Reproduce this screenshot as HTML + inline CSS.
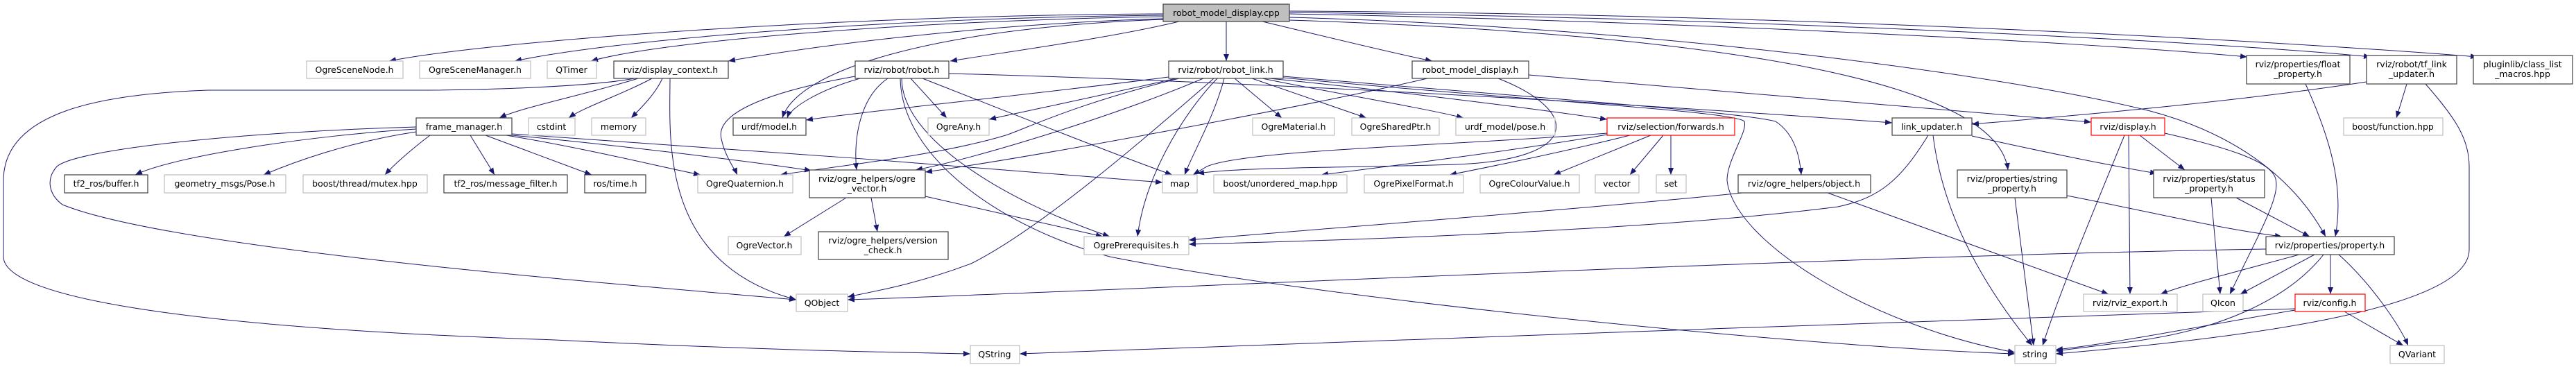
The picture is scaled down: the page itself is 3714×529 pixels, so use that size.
<!DOCTYPE html>
<html><head><meta charset="utf-8"><style>
html,body{margin:0;padding:0;background:#fff;}
svg{display:block;}
text{font-family:"DejaVu Sans","Liberation Sans",sans-serif;font-size:12.5px;fill:#000;text-anchor:middle;}
.g{fill:#fff;stroke:#bfbfbf;stroke-width:1.2;}
.b{fill:#fff;stroke:#404040;stroke-width:1.2;}
.r{fill:#fff;stroke:#ff0000;stroke-width:1.2;}
.e{fill:none;stroke:#191970;stroke-width:1;}
</style></head><body>
<svg width="3714" height="529" viewBox="0 0 3714 529" xmlns="http://www.w3.org/2000/svg">
<defs><marker id="a" markerUnits="userSpaceOnUse" markerWidth="11" markerHeight="8" refX="10" refY="4" orient="auto"><path d="M0,0 L10,4 L0,8 z" fill="#191970"/></marker></defs>
<g class="e" marker-end="url(#a)">
<!-- root -->
<path d="M1677,20 C1200,22 700,60 561,88"/>
<path d="M1677,22 C1300,25 900,55 742,88"/>
<path d="M1677,24 C1300,30 950,60 852,88"/>
<path d="M1677,27 C1400,35 1150,70 1050,88"/>
<path d="M1677,28 C1350,40 1150,100 1128,170"/>
<path d="M1700,31 C1600,55 1450,75 1370,88"/>
<path d="M1768,31 L1768,88"/>
<path d="M1820,31 C1900,50 2000,75 2065,88"/>
<path d="M1859,20 C2400,30 3000,60 3240,82"/>
<path d="M1859,18 C2500,25 3200,60 3418,82"/>
<path d="M1859,16 C2600,20 3300,60 3572,82"/>
<path d="M1859,29 C2500,50 2880,120 2895,245"/>
<path d="M1859,25 C2400,40 2900,110 3100,160 C3250,200 3320,280 3353,341"/>
<!-- display_context -->
<path d="M920,113 C850,135 750,155 720,170"/>
<path d="M940,113 C900,135 840,155 820,170"/>
<path d="M955,113 C945,135 925,155 910,170"/>
<path d="M966,113 C966,200 950,380 1148,432"/>
<path d="M915,113 C850,125 700,130 600,130 L300,130 C150,135 5,160 5,260 L5,370 C5,420 200,470 800,490 C1100,505 1300,508 1399,510"/>
<!-- frame_manager -->
<path d="M600,186 C450,195 250,225 195,252"/>
<path d="M600,190 C500,205 420,235 380,252"/>
<path d="M620,195 C600,210 570,235 555,252"/>
<path d="M678,195 L713,252"/>
<path d="M700,195 L853,252"/>
<path d="M730,195 C850,215 950,240 1010,252"/>
<path d="M738,195 C900,210 1100,235 1170,246"/>
<path d="M738,193 C1000,210 1400,240 1676,263"/>
<path d="M600,183 C350,190 110,215 82,240 C66,258 70,280 90,295 C250,360 900,410 1148,432"/>
<!-- robot.h -->
<path d="M1240,113 C1180,130 1140,155 1135,170"/>
<path d="M1233,110 C1120,130 1030,160 1040,200 C1045,225 1060,245 1063,252"/>
<path d="M1280,113 C1240,140 1230,200 1235,245"/>
<path d="M1313,113 L1365,170"/>
<path d="M1330,113 C1450,160 1600,220 1690,252"/>
<path d="M1300,113 C1300,200 1450,290 1600,341"/>
<path d="M1298,113 C1300,230 1450,330 1600,370 C1900,430 2600,500 2905,510"/>
<path d="M1368,106 C1900,120 2500,160 2728,177"/>
<!-- robot_link -->
<path d="M1685,111 C1500,135 1250,160 1162,173"/>
<path d="M1700,113 C1550,150 1480,185 1450,195 C1350,225 1200,240 1125,252"/>
<path d="M1735,113 C1600,170 1400,230 1320,245"/>
<path d="M1700,112 C1600,135 1480,160 1426,172"/>
<path d="M1765,113 C1750,170 1720,220 1708,252"/>
<path d="M1755,113 C1700,170 1650,260 1640,341"/>
<path d="M1750,113 C1650,200 1500,330 1400,380 C1320,410 1260,420 1222,428"/>
<path d="M1780,113 L1848,170"/>
<path d="M1805,113 L1970,170"/>
<path d="M1820,113 C1900,130 2050,155 2110,170"/>
<path d="M1830,113 C2000,130 2200,155 2317,172"/>
<path d="M1850,110 C2200,140 2500,160 2560,175 C2590,195 2595,230 2597,252"/>
<path d="M1850,112 C2200,145 2500,160 2515,175 C2520,190 2490,230 2490,260 C2500,350 2700,470 2905,508"/>
<!-- robot_model_display.h -->
<path d="M2204,108 C2600,140 2900,165 3015,176"/>
<path d="M2160,113 C2280,160 2280,230 2100,237 C1950,242 1800,240 1726,250"/>
<path d="M2058,113 C1900,150 1500,225 1334,248"/>
<!-- forwards -->
<path d="M2317,194 C2200,215 2000,240 1905,252"/>
<path d="M2350,195 C2250,220 2150,240 2090,252"/>
<path d="M2380,195 L2240,252"/>
<path d="M2398,195 L2350,252"/>
<path d="M2409,195 L2409,252"/>
<path d="M2317,192 C2100,210 1800,215 1740,240 L1720,252"/>
<!-- link_updater -->
<path d="M2780,195 C2740,260 2710,285 2650,298 C2400,330 2000,345 1714,352"/>
<path d="M2787,195 C2800,300 2850,400 2930,498"/>
<path d="M2843,196 C2950,220 3050,240 3110,250"/>
<!-- object.h -->
<path d="M2512,278 C2300,300 1900,330 1714,346"/>
<path d="M2635,278 L3040,424"/>
<!-- string_property -->
<path d="M2905,285 L2932,498"/>
<path d="M2980,282 C3100,305 3200,330 3290,341"/>
<!-- display.h -->
<path d="M3063,195 C3020,300 2970,420 2945,498"/>
<path d="M3069,195 L3071,424"/>
<path d="M3085,195 L3150,245"/>
<path d="M3121,192 C3200,210 3270,230 3280,255 C3290,280 3260,330 3215,424"/>
<!-- status -->
<path d="M3188,285 L3201,424"/>
<path d="M3224,285 L3330,341"/>
<!-- float / tf -->
<path d="M3324,121 C3360,200 3380,270 3367,341"/>
<path d="M3412,118 C3200,150 2950,170 2843,179"/>
<path d="M3470,121 L3455,170"/>
<path d="M3497,121 C3540,170 3560,200 3560,240 L3560,360 C3560,450 3200,490 2964,510"/>
<!-- property -->
<path d="M3267,359 C2600,370 1600,420 1222,432"/>
<path d="M3315,367 C3250,385 3150,410 3115,424"/>
<path d="M3337,367 L3230,424"/>
<path d="M3350,367 C3300,430 3200,480 3050,495 L2964,506"/>
<path d="M3360,367 L3360,424"/>
<path d="M3372,367 C3420,410 3460,470 3472,498"/>
<!-- config -->
<path d="M3309,445 C2800,460 1800,500 1470,510"/>
<path d="M3309,447 C3200,465 3050,495 2964,504"/>
<path d="M3380,449 L3465,498"/>
<!-- ogre_vector -->
<path d="M1220,285 L1130,341"/>
<path d="M1256,285 L1265,334"/>
<path d="M1334,283 L1590,341"/>
</g>
<!-- nodes -->
<rect x="1677" y="6" width="182" height="25" fill="#bfbfbf" stroke="#404040" stroke-width="1.2"/><text x="1768" y="23">robot_model_display.cpp</text>
<rect class="g" x="442" y="88" width="139" height="25"/><text x="511" y="105">OgreSceneNode.h</text>
<rect class="g" x="605" y="88" width="160" height="25"/><text x="685" y="105">OgreSceneManager.h</text>
<rect class="g" x="789" y="88" width="71" height="25"/><text x="824" y="105">QTimer</text>
<rect class="b" x="885" y="88" width="165" height="25"/><text x="967" y="105">rviz/display_context.h</text>
<rect class="b" x="1233" y="88" width="135" height="25"/><text x="1300" y="105">rviz/robot/robot.h</text>
<rect class="b" x="1685" y="88" width="165" height="25"/><text x="1767" y="105">rviz/robot/robot_link.h</text>
<rect class="b" x="2036" y="88" width="168" height="25"/><text x="2120" y="105">robot_model_display.h</text>
<rect class="b" x="3239" y="80" width="149" height="41"/><text x="3313" y="97">rviz/properties/float</text><text x="3313" y="111">_property.h</text>
<rect class="b" x="3412" y="80" width="130" height="41"/><text x="3477" y="97">rviz/robot/tf_link</text><text x="3477" y="111">_updater.h</text>
<rect class="b" x="3566" y="80" width="143" height="41"/><text x="3637" y="97">pluginlib/class_list</text><text x="3637" y="111">_macros.hpp</text>
<rect class="b" x="600" y="170" width="138" height="25"/><text x="669" y="187">frame_manager.h</text>
<rect class="g" x="762" y="170" width="67" height="25"/><text x="795" y="187">cstdint</text>
<rect class="g" x="853" y="170" width="78" height="25"/><text x="892" y="187">memory</text>
<rect class="b" x="1057" y="170" width="105" height="25"/><text x="1109" y="187">urdf/model.h</text>
<rect class="g" x="1338" y="170" width="88" height="25"/><text x="1382" y="187">OgreAny.h</text>
<rect class="g" x="1806" y="170" width="118" height="25"/><text x="1865" y="187">OgreMaterial.h</text>
<rect class="g" x="1949" y="170" width="126" height="25"/><text x="2012" y="187">OgreSharedPtr.h</text>
<rect class="g" x="2099" y="170" width="143" height="25"/><text x="2170" y="187">urdf_model/pose.h</text>
<rect class="r" x="2317" y="170" width="184" height="25"/><text x="2409" y="187">rviz/selection/forwards.h</text>
<rect class="b" x="2728" y="170" width="115" height="25"/><text x="2785" y="187">link_updater.h</text>
<rect class="r" x="3015" y="170" width="106" height="25"/><text x="3068" y="187">rviz/display.h</text>
<rect class="g" x="3379" y="170" width="143" height="25"/><text x="3450" y="187">boost/function.hpp</text>
<rect class="b" x="93" y="252" width="120" height="26"/><text x="153" y="269">tf2_ros/buffer.h</text>
<rect class="g" x="237" y="252" width="175" height="26"/><text x="324" y="269">geometry_msgs/Pose.h</text>
<rect class="g" x="437" y="252" width="179" height="26"/><text x="526" y="269">boost/thread/mutex.hpp</text>
<rect class="b" x="640" y="252" width="178" height="26"/><text x="729" y="269">tf2_ros/message_filter.h</text>
<rect class="b" x="843" y="252" width="88" height="26"/><text x="887" y="269">ros/time.h</text>
<rect class="g" x="1006" y="252" width="137" height="26"/><text x="1074" y="269">OgreQuaternion.h</text>
<rect class="b" x="1167" y="245" width="167" height="40"/><text x="1250" y="262">rviz/ogre_helpers/ogre</text><text x="1250" y="276">_vector.h</text>
<rect class="g" x="1676" y="252" width="50" height="26"/><text x="1701" y="269">map</text>
<rect class="g" x="1750" y="252" width="192" height="26"/><text x="1846" y="269">boost/unordered_map.hpp</text>
<rect class="g" x="1967" y="252" width="143" height="26"/><text x="2038" y="269">OgrePixelFormat.h</text>
<rect class="g" x="2134" y="252" width="143" height="26"/><text x="2205" y="269">OgreColourValue.h</text>
<rect class="g" x="2300" y="252" width="63" height="26"/><text x="2331" y="269">vector</text>
<rect class="g" x="2388" y="252" width="43" height="26"/><text x="2409" y="269">set</text>
<rect class="b" x="2506" y="252" width="191" height="26"/><text x="2601" y="269">rviz/ogre_helpers/object.h</text>
<rect class="b" x="2822" y="245" width="158" height="40"/><text x="2901" y="262">rviz/properties/string</text><text x="2901" y="276">_property.h</text>
<rect class="b" x="3105" y="245" width="160" height="40"/><text x="3185" y="262">rviz/properties/status</text><text x="3185" y="276">_property.h</text>
<rect class="g" x="1050" y="341" width="105" height="26"/><text x="1102" y="358">OgreVector.h</text>
<rect class="b" x="1180" y="334" width="187" height="40"/><text x="1273" y="351">rviz/ogre_helpers/version</text><text x="1273" y="365">_check.h</text>
<rect class="g" x="1563" y="341" width="151" height="26"/><text x="1638" y="358">OgrePrerequisites.h</text>
<rect class="b" x="3267" y="341" width="185" height="26"/><text x="3359" y="358">rviz/properties/property.h</text>
<rect class="g" x="1148" y="424" width="74" height="25"/><text x="1185" y="441">QObject</text>
<rect class="g" x="3004" y="424" width="135" height="25"/><text x="3071" y="441">rviz/rviz_export.h</text>
<rect class="g" x="3176" y="424" width="58" height="25"/><text x="3205" y="441">QIcon</text>
<rect class="r" x="3309" y="424" width="101" height="25"/><text x="3359" y="441">rviz/config.h</text>
<rect class="g" x="1399" y="498" width="71" height="26"/><text x="1434" y="515">QString</text>
<rect class="g" x="2905" y="498" width="59" height="26"/><text x="2934" y="515">string</text>
<rect class="g" x="3446" y="498" width="78" height="26"/><text x="3485" y="515">QVariant</text>
</svg>
</body></html>
